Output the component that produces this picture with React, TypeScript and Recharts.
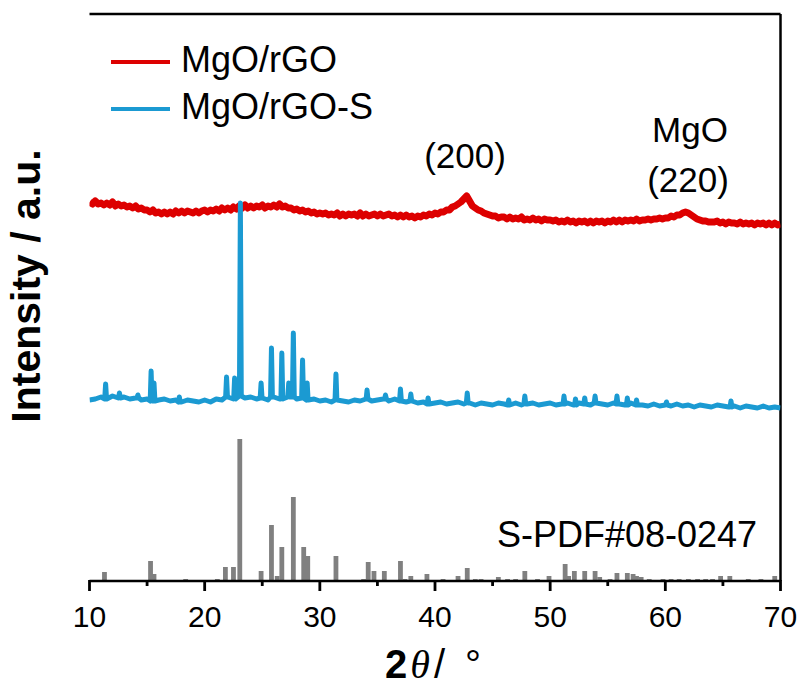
import { ComposedChart, Line, Bar, XAxis, YAxis, Legend, ReferenceLine } from 'recharts'

// 2θ grid start for the scanned patterns
const START = 10
const RED_STEP = 0.25
const BLUE_STEP = 0.5

// MgO/rGO scan (0.25° step), counts above its own zero
const RED_COUNTS = [
  39, 37, 40, 37, 38, 36, 38, 36, 39, 35, 37, 35, 36, 34, 35, 33,
  35, 32, 33, 31, 31, 29, 31, 28, 29, 27, 29, 27, 29, 27, 30, 28,
  30, 28, 30, 29, 28, 30, 28, 30, 31, 29, 31, 30, 32, 30, 33, 31,
  33, 31, 34, 32, 35, 33, 36, 33, 35, 33, 35, 34, 36, 33, 35, 34,
  36, 34, 37, 34, 35, 33, 33, 31, 32, 30, 31, 29, 30, 28, 29, 27,
  28, 27, 28, 26, 27, 26, 28, 25, 27, 25, 27, 26, 27, 25, 28, 25,
  27, 25, 26, 27, 25, 27, 25, 26, 27, 25, 26, 24, 26, 24, 26, 24,
  25, 23, 25, 24, 26, 25, 27, 26, 28, 27, 29, 29, 31, 31, 34, 35,
  37, 39, 42, 45, 40, 35, 33, 31, 30, 28, 27, 26, 25, 25, 23, 24,
  24, 22, 24, 22, 23, 22, 24, 21, 22, 21, 23, 21, 22, 20, 22, 21,
  21, 20, 21, 19, 20, 19, 21, 19, 20, 18, 20, 19, 20, 18, 20, 18,
  20, 19, 20, 18, 20, 19, 21, 19, 21, 19, 21, 20, 21, 20, 22, 20,
  21, 21, 22, 21, 22, 22, 23, 22, 23, 23, 25, 24, 26, 26, 28, 29,
  28, 26, 24, 22, 21, 20, 20, 19, 19, 19, 20, 18, 19, 17, 19, 18,
  18, 17, 19, 17, 18, 17, 18, 16, 18, 17, 18, 16, 18, 16, 18, 16,
  17,
]

// MgO/rGO-S scan: background (0.5° step) and reflections
const BLUE_BASE = [
  21, 22, 24, 22, 25, 23, 24, 22, 23, 21, 22, 20, 21, 22, 20, 21,
  19, 21, 20, 19, 21, 19, 22, 21, 24, 22, 25, 23, 24, 22, 23, 21,
  24, 22, 23, 24, 22, 23, 21, 22, 20, 21, 19, 21, 20, 19, 21, 20,
  22, 20, 21, 22, 20, 22, 20, 19, 20, 18, 19, 17, 18, 19, 17, 18,
  19, 17, 18, 16, 18, 17, 16, 18, 17, 16, 18, 16, 17, 18, 16, 17,
  18, 16, 17, 18, 16, 18, 17, 16, 18, 17, 16, 18, 17, 16, 18, 16,
  16, 15, 17, 15, 16, 15, 17, 15, 16, 14, 16, 15, 14, 16, 15, 14,
  15, 13, 15, 14, 13, 15, 13, 14, 13,
]
const BLUE_PEAK_ANGLE = [
  11.4, 12.6, 14.2, 15.35, 15.6, 17.8, 21.9, 22.6, 23.1, 24.9, 25.8, 26.7,
  27.3, 27.7, 28.5, 28.9, 31.4, 34.1, 35.7, 37.0, 37.9, 39.4, 42.8, 46.4,
  47.8, 51.2, 52.2, 53.0, 53.9, 55.8, 56.7, 57.5, 60.1, 65.7,
]
const BLUE_PEAK_COUNTS = [
  37, 28, 26, 50, 38, 24, 44, 43, 218, 38, 73, 68,
  38, 88, 61, 38, 47, 31, 26, 32, 27, 23, 28, 21,
  25, 25, 22, 23, 25, 25, 23, 21, 19, 20,
]

// S standard card lines
const REF_ANGLE = [
  11.3, 15.3, 15.6, 18.35, 21.1, 21.8, 22.5, 23.05, 24.9, 25.8, 26.3, 26.7,
  27.7, 28.6, 28.95, 31.4, 33.8, 34.2, 34.7, 35.6, 37.0, 37.4, 37.9, 39.3,
  40.7, 42.0, 42.8, 43.5, 44.0, 45.5, 46.3, 47.0, 47.8, 48.9, 49.9, 51.3,
  51.6, 52.1, 53.0, 53.9, 54.3, 55.2, 55.8, 56.7, 57.2, 57.5, 57.9, 58.6,
  59.8, 60.5, 61.2, 62.0, 62.8, 63.5, 64.1, 64.8, 65.6, 67.2, 68.3, 69.5,
]
const REF_INTENSITY = [
  9, 20, 7, 2, 2, 14, 14, 142, 10, 56, 5, 34,
  84, 34, 25, 25, 2, 19, 10, 10, 20, 2, 5, 7,
  2, 5, 13, 2, 2, 4, 2, 2, 10, 2, 5, 17,
  5, 10, 10, 10, 4, 2, 8, 8, 7, 5, 4, 2,
  2, 2, 2, 2, 2, 2, 2, 5, 5, 2, 2, 5,
]

const MAJOR_TICKS = [10, 20, 30, 40, 50, 60, 70]
const MINOR_TICKS = [15, 25, 35, 45, 55, 65]
const Y_MAX = 567
const RED_OFFSET = 340
const BLUE_OFFSET = 160

const RED = '#dd0000'
const BLUE = '#1b9ad2'
const GRAY = '#808080'
const FONT = '"Liberation Sans", Arial, sans-serif'

const refData = REF_ANGLE.map((a, i) => ({ angle: a, ref: REF_INTENSITY[i] }))
const redData = RED_COUNTS.map((c, i) => ({ angle: START + i * RED_STEP, v: c + RED_OFFSET }))

const blueData: { angle: number; v: number }[] = []
BLUE_BASE.forEach((c, i) => {
  const a = START + i * BLUE_STEP
  if (!BLUE_PEAK_ANGLE.some((p) => Math.abs(p - a) < 0.09)) blueData.push({ angle: a, v: c + BLUE_OFFSET })
})
BLUE_PEAK_ANGLE.forEach((a, k) => {
  const base = BLUE_BASE[Math.round((a - START) / BLUE_STEP)] + BLUE_OFFSET
  blueData.push({ angle: a - 0.08, v: base }, { angle: a, v: BLUE_PEAK_COUNTS[k] + BLUE_OFFSET }, { angle: a + 0.08, v: base })
})
blueData.sort((p, q) => p.angle - q.angle)

const StickShape = (props: any) => {
  const { x, y, width, height, fill } = props
  const cx = x + width / 2
  return <rect x={cx - 2.4} y={y} width={4.8} height={height} fill={fill} />
}

// tick mark + label drawn as rects so they survive any stroke handling
const AngleTick = (props: any) => {
  const { x, y, payload } = props
  const major = payload.value % 10 === 0
  return (
    <g>
      <rect x={x - 1.4} y={y - 1} width={2.8} height={major ? 11 : 6} fill="#000" />
      {major && (
        <text x={x} y={y + 46} textAnchor="middle" fontSize={30} fontFamily={FONT} fill="#000">
          {payload.value}
        </text>
      )}
    </g>
  )
}

const renderLegend = (props: any) => {
  const items = (props.payload || []).filter((p: any) => p.type !== 'none')
  return (
    <svg width={320} height={110}>
      {items.map((p: any, i: number) => (
        <g key={p.value}>
          <line x1={11} x2={70} y1={32 + i * 47} y2={32 + i * 47} stroke={p.color} strokeWidth={4} />
          <text x={81} y={42 + i * 47} fontSize={36} fontFamily={FONT} fill="#000">{p.value}</text>
        </g>
      ))}
    </svg>
  )
}

export default function App() {
  return (
    <div style={{ position: 'absolute', left: 0, top: 0, width: 803, height: 686, background: '#fff' }}>
      <ComposedChart
        width={803}
        height={686}
        data={refData}
        margin={{ top: 14, right: 22.5, bottom: 45, left: 89.5 }}
      >
        <XAxis
          type="number"
          dataKey="angle"
          domain={[10, 70]}
          allowDataOverflow
          ticks={[...MAJOR_TICKS, ...MINOR_TICKS].sort((a, b) => a - b)}
          interval={0}
          tick={<AngleTick />}
          tickLine={false}
          tickSize={0}
          tickMargin={0}
          height={60}
          axisLine={{ stroke: '#000', strokeWidth: 2.5 }}
        />
        <YAxis
          type="number"
          domain={[0, Y_MAX]}
          allowDataOverflow
          width={0}
          tick={false}
          tickLine={false}
          axisLine={{ stroke: '#000', strokeWidth: 2.5 }}
        />
        <ReferenceLine x={70} stroke="#000" strokeWidth={2.5} />
        <ReferenceLine y={Y_MAX} stroke="#000" strokeWidth={2.5} />
        <Bar dataKey="ref" fill={GRAY} shape={<StickShape />} legendType="none" isAnimationActive={false} />
        <Line
          data={redData}
          dataKey="v"
          name="MgO/rGO"
          type="linear"
          stroke={RED}
          strokeWidth={7}
          strokeLinejoin="round"
          dot={false}
          activeDot={false}
          isAnimationActive={false}
        />
        <Line
          data={blueData}
          dataKey="v"
          name="MgO/rGO-S"
          type="linear"
          stroke={BLUE}
          strokeWidth={5}
          strokeLinejoin="round"
          dot={false}
          activeDot={false}
          isAnimationActive={false}
        />
        <Legend
          layout="vertical"
          align="center"
          verticalAlign="middle"
          content={renderLegend}
          wrapperStyle={{ left: 100, top: 30, width: 320, height: 110 }}
        />
        <text x={465} y={168} textAnchor="middle" fontSize={35} fontFamily={FONT} fill="#000">(200)</text>
        <text x={690} y={142} textAnchor="middle" fontSize={35} fontFamily={FONT} fill="#000">MgO</text>
        <text x={688} y={192} textAnchor="middle" fontSize={35} fontFamily={FONT} fill="#000">(220)</text>
        <text x={497} y={547} fontSize={36} fontFamily={FONT} fill="#000">S-PDF#08-0247</text>
        <text x={385} y={678} fontFamily={FONT} fill="#000">
          <tspan fontSize={40} fontWeight="bold">2</tspan>
          <tspan fontSize={40} fontStyle="italic" fontFamily='"Liberation Serif", serif' dx={3}>θ</tspan>
          <tspan fontSize={40} dx={4}>/</tspan>
          <tspan fontSize={40} dx={20}>°</tspan>
        </text>
        <text
          x={40}
          y={286}
          transform="rotate(-90, 40, 286)"
          textAnchor="middle"
          fontSize={41}
          fontWeight="bold"
          fontFamily={FONT}
          fill="#000"
        >
          Intensity / a.u.
        </text>
      </ComposedChart>
    </div>
  )
}
